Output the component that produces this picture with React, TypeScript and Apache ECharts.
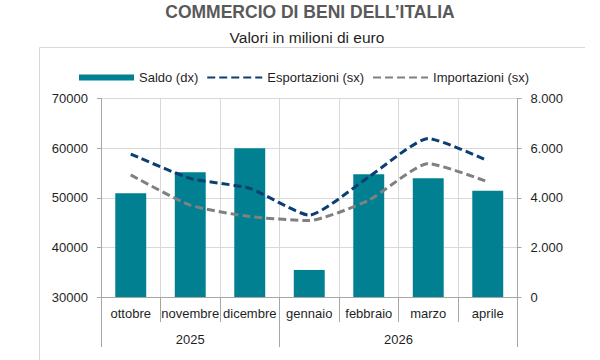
import React, { useEffect, useRef } from "react";
import * as echarts from "echarts";

const categories = ["ottobre", "novembre", "dicembre", "gennaio", "febbraio", "marzo", "aprile"];
const years = ["2025", "2025", "2025", "2026", "2026", "2026", "2026"];
const saldo = [4180, 5030, 5990, 1090, 4950, 4790, 4280];
const esportazioni = [58800, 53900, 51900, 46500, 54200, 61950, 57450];
const importazioni = [54600, 48500, 46200, 45400, 49500, 56900, 53200];
const leftTicks = { min: 30000, max: 70000, interval: 10000 };
const rightTicks = { min: 0, max: 8000, interval: 2000 };

const FONT = '"Liberation Sans", Arial, sans-serif';
const AXIS_GRAY = "#a6a6a6";
const GRID_GRAY = "#d9d9d9";
const TEXT = "#1f1f1f";

function fmtDot(v: number) {
  return String(v).replace(/\B(?=(\d{3})+(?!\d))/g, ".");
}

function yearLabelInfo() {
  const info: Record<number, { text: string; shift: boolean }> = {};
  let s = 0;
  while (s < years.length) {
    let e = s;
    while (e + 1 < years.length && years[e + 1] === years[s]) e++;
    const n = e - s + 1;
    if (n % 2 === 1) info[s + (n - 1) / 2] = { text: years[s], shift: false };
    else info[s + n / 2] = { text: years[s], shift: true };
    s = e + 1;
  }
  return info;
}

export default function App() {
  const ref = useRef<HTMLDivElement>(null);
  useEffect(() => {
    if (!ref.current) return;
    const chart = echarts.init(ref.current, undefined, { renderer: "svg" });
    const yl = yearLabelInfo();
    const gridLeft = 101;
    const gridRight = 82.5;
    const band = (600 - gridLeft - gridRight) / categories.length;
    chart.setOption({
      animation: false,
      backgroundColor: "#ffffff",
      textStyle: { fontFamily: FONT },
      graphic: [
        {
          type: "line",
          shape: { x1: 39.5, y1: 47.5, x2: 585, y2: 47.5 },
          style: { stroke: GRID_GRAY, lineWidth: 1 },
          silent: true,
        },
        {
          type: "line",
          shape: { x1: 39.5, y1: 47.5, x2: 39.5, y2: 362 },
          style: { stroke: GRID_GRAY, lineWidth: 1 },
          silent: true,
        },
        {
          type: "text",
          x: 310,
          y: 12,
          style: {
            text: "COMMERCIO DI BENI DELL\u2019ITALIA",
            font: `bold 17.5px ${FONT}`,
            fill: "#595959",
            align: "center",
            verticalAlign: "middle",
          },
        },
        {
          type: "text",
          x: 307,
          y: 37,
          style: {
            text: "Valori in milioni di euro",
            font: `15.5px ${FONT}`,
            fill: TEXT,
            align: "center",
            verticalAlign: "middle",
          },
        },
      ],
      legend: {
        left: 74,
        top: 66,
        itemWidth: 55,
        itemHeight: 6,
        itemGap: 8,
        textStyle: { fontSize: 13, color: TEXT, fontFamily: FONT },
        data: [
          { name: "Saldo (dx)", icon: "rect" },
          { name: "Esportazioni (sx)", itemStyle: { opacity: 0 } },
          { name: "Importazioni (sx)", itemStyle: { opacity: 0 } },
        ],
      },
      grid: { left: gridLeft, right: gridRight, top: 98.5, bottom: 63, containLabel: false },
      xAxis: [
        {
          type: "category",
          data: categories,
          position: "bottom",
          boundaryGap: true,
          axisLine: { show: true, lineStyle: { color: AXIS_GRAY, width: 1 } },
          axisTick: { show: true, interval: 0, length: 25, lineStyle: { color: AXIS_GRAY } },
          axisLabel: { interval: 0, margin: 10, fontSize: 13, color: TEXT, fontFamily: FONT },
          splitLine: { show: true, interval: 0, lineStyle: { color: GRID_GRAY } },
        },
        {
          type: "category",
          data: categories,
          position: "bottom",
          boundaryGap: true,
          axisLine: { show: false },
          axisTick: {
            show: true,
            interval: (i: number) => i === 0 || years[i] !== years[i - 1],
            length: 50,
            lineStyle: { color: AXIS_GRAY },
          },
          axisLabel: {
            interval: 0,
            margin: 36,
            fontSize: 13,
            color: TEXT,
            fontFamily: FONT,
            formatter: (_v: string, i: number) => {
              const it = yl[i];
              if (!it) return "";
              return it.shift ? `{s|${it.text}}` : `{n|${it.text}}`;
            },
            rich: {
              s: { fontSize: 13, color: TEXT, fontFamily: FONT, padding: [0, band, 0, 0] },
              n: { fontSize: 13, color: TEXT, fontFamily: FONT },
            },
          },
          splitLine: { show: false },
        },
      ],
      yAxis: [
        {
          type: "value",
          min: leftTicks.min,
          max: leftTicks.max,
          interval: leftTicks.interval,
          position: "left",
          axisLine: { show: true, lineStyle: { color: AXIS_GRAY } },
          axisTick: { show: true, length: 4, lineStyle: { color: AXIS_GRAY } },
          axisLabel: { margin: 13, fontSize: 13, color: TEXT, fontFamily: FONT, formatter: (v: number) => String(v) },
          splitLine: { show: true, lineStyle: { color: GRID_GRAY } },
        },
        {
          type: "value",
          min: rightTicks.min,
          max: rightTicks.max,
          interval: rightTicks.interval,
          position: "right",
          axisLine: { show: true, lineStyle: { color: AXIS_GRAY } },
          axisTick: { show: true, length: 4, lineStyle: { color: AXIS_GRAY } },
          axisLabel: { margin: 13, fontSize: 13, color: TEXT, fontFamily: FONT, formatter: (v: number) => fmtDot(v) },
          splitLine: { show: false },
        },
      ],
      series: [
        {
          name: "Saldo (dx)",
          type: "bar",
          xAxisIndex: 0,
          yAxisIndex: 1,
          data: saldo,
          barWidth: "52%",
          itemStyle: { color: "#008091" },
          z: 1,
        },
        {
          name: "Esportazioni (sx)",
          type: "line",
          xAxisIndex: 0,
          yAxisIndex: 0,
          data: esportazioni,
          smooth: 0.18,
          symbol: "none",
          lineStyle: { color: "#0b3f73", width: 3, type: [8, 4] },
          itemStyle: { color: "#0b3f73" },
          z: 3,
        },
        {
          name: "Importazioni (sx)",
          type: "line",
          xAxisIndex: 0,
          yAxisIndex: 0,
          data: importazioni,
          smooth: 0.18,
          symbol: "none",
          lineStyle: { color: "#808080", width: 3, type: [8, 4] },
          itemStyle: { color: "#808080" },
          z: 2,
        },
      ],
    });
    return () => chart.dispose();
  }, []);
  return (
    <div style={{ position: "fixed", left: 0, top: 0, width: 600, height: 360, background: "#fff" }}>
      <div ref={ref} style={{ width: 600, height: 360 }} />
    </div>
  );
}
